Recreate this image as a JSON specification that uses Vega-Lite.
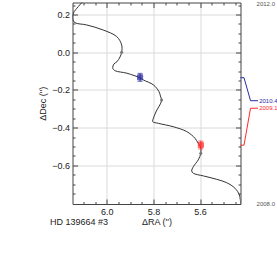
{
  "$schema": "https://vega.github.io/schema/vega-lite/v6.json",
  "width": 168,
  "height": 201.5,
  "autosize": {"type": "none"},
  "padding": {"left": 72.5, "top": 2.5, "right": 36.5, "bottom": 65},
  "background": "white",
  "config": {
    "view": {"stroke": null},
    "font": "Liberation Sans",
    "axis": {"domainColor": "#444", "tickColor": "#444", "labelColor": "#222", "titleColor": "#222", "labelFontSize": 9, "titleFontSize": 9, "titleFontWeight": "normal"}
  },
  "datasets": {
    "curve": [
      {"i": 1, "ra": 5.426, "dec": -0.81},
      {"i": 2, "ra": 5.432, "dec": -0.757},
      {"i": 3, "ra": 5.451, "dec": -0.721},
      {"i": 4, "ra": 5.486, "dec": -0.692},
      {"i": 5, "ra": 5.529, "dec": -0.674},
      {"i": 6, "ra": 5.586, "dec": -0.656},
      {"i": 7, "ra": 5.629, "dec": -0.642},
      {"i": 8, "ra": 5.636, "dec": -0.63},
      {"i": 9, "ra": 5.629, "dec": -0.607},
      {"i": 10, "ra": 5.608, "dec": -0.571},
      {"i": 11, "ra": 5.597, "dec": -0.536},
      {"i": 12, "ra": 5.598, "dec": -0.502},
      {"i": 13, "ra": 5.608, "dec": -0.483},
      {"i": 14, "ra": 5.622, "dec": -0.456},
      {"i": 15, "ra": 5.657, "dec": -0.421},
      {"i": 16, "ra": 5.715, "dec": -0.395},
      {"i": 17, "ra": 5.779, "dec": -0.377},
      {"i": 18, "ra": 5.803, "dec": -0.368},
      {"i": 19, "ra": 5.8, "dec": -0.35},
      {"i": 20, "ra": 5.785, "dec": -0.306},
      {"i": 21, "ra": 5.77, "dec": -0.274},
      {"i": 22, "ra": 5.765, "dec": -0.253},
      {"i": 23, "ra": 5.77, "dec": -0.232},
      {"i": 24, "ra": 5.776, "dec": -0.209},
      {"i": 25, "ra": 5.8, "dec": -0.173},
      {"i": 26, "ra": 5.843, "dec": -0.147},
      {"i": 27, "ra": 5.857, "dec": -0.136},
      {"i": 28, "ra": 5.914, "dec": -0.111},
      {"i": 29, "ra": 5.964, "dec": -0.098},
      {"i": 30, "ra": 5.974, "dec": -0.085},
      {"i": 31, "ra": 5.969, "dec": -0.062},
      {"i": 32, "ra": 5.956, "dec": -0.05},
      {"i": 33, "ra": 5.943, "dec": -0.025},
      {"i": 34, "ra": 5.936, "dec": 0.0},
      {"i": 35, "ra": 5.936, "dec": 0.039},
      {"i": 36, "ra": 5.957, "dec": 0.083},
      {"i": 37, "ra": 6.015, "dec": 0.118},
      {"i": 38, "ra": 6.086, "dec": 0.145},
      {"i": 39, "ra": 6.136, "dec": 0.157},
      {"i": 40, "ra": 6.146, "dec": 0.177},
      {"i": 41, "ra": 6.143, "dec": 0.207},
      {"i": 42, "ra": 6.122, "dec": 0.242},
      {"i": 43, "ra": 6.103, "dec": 0.268},
      {"i": 44, "ra": 6.089, "dec": 0.288}
    ],
    "years": [
      {"yr": 2009.0, "ra": 5.597, "dec": -0.536},
      {"yr": 2010.0, "ra": 5.765, "dec": -0.253},
      {"yr": 2011.0, "ra": 5.936, "dec": 0.0}
    ],
    "obs": [
      {"series": "2010.4", "ra": 5.857, "dec": -0.133, "lo": -0.154, "hi": -0.112},
      {"series": "2009.1", "ra": 5.597, "dec": -0.492, "lo": -0.513, "hi": -0.471}
    ],
    "conn": [
      {"series": "2010.4", "i": 1, "ra": 5.427, "dec": -0.135},
      {"series": "2010.4", "i": 2, "ra": 5.412, "dec": -0.135},
      {"series": "2010.4", "i": 3, "ra": 5.384, "dec": -0.257},
      {"series": "2010.4", "i": 4, "ra": 5.352, "dec": -0.257},
      {"series": "2009.1", "i": 1, "ra": 5.427, "dec": -0.493},
      {"series": "2009.1", "i": 2, "ra": 5.412, "dec": -0.493},
      {"series": "2009.1", "i": 3, "ra": 5.384, "dec": -0.297},
      {"series": "2009.1", "i": 4, "ra": 5.352, "dec": -0.297}
    ],
    "labels": [
      {"text": "2012.0", "series": "model", "ra": 5.358, "dec": 0.257},
      {"text": "2010.4", "series": "2010.4", "ra": 5.347, "dec": -0.257},
      {"text": "2009.1", "series": "2009.1", "ra": 5.347, "dec": -0.297},
      {"text": "2008.0", "series": "model", "ra": 5.358, "dec": -0.805}
    ],
    "name": [
      {"text": "HD 139664 #3", "ra": 6.243, "dec": -0.899}
    ]
  },
  "layer": [
    {
      "data": {"name": "curve"},
      "mark": {"type": "line", "color": "#333", "strokeWidth": 1, "interpolate": "catmull-rom", "clip": true},
      "encoding": {
        "x": {"field": "ra", "type": "quantitative", "scale": {"domain": [5.427, 6.1465], "reverse": true, "nice": false, "zero": false},
          "axis": {"orient": "bottom", "values": [6.0, 5.8, 5.6], "format": ".1f", "title": "ΔRA ('')", "grid": true, "gridColor": "#dadada", "tickSize": -5, "labelPadding": 8, "titlePadding": 1}},
        "y": {"field": "dec", "type": "quantitative", "scale": {"domain": [-0.805, 0.264], "nice": false, "zero": false},
          "axis": {"orient": "left", "values": [0.2, 0.0, -0.2, -0.4, -0.6], "format": ".1f", "title": "ΔDec ('')", "grid": true, "gridColor": "#dadada", "tickSize": -5, "labelPadding": 8, "titlePadding": 4}},
        "order": {"field": "i", "type": "quantitative"}
      }
    },
    {
      "data": {"name": "years"},
      "mark": {"type": "circle", "color": "#777", "size": 9, "opacity": 1},
      "encoding": {
        "x": {"field": "ra", "type": "quantitative",
          "axis": {"orient": "bottom", "values": [6.1, 6.05, 5.95, 5.9, 5.85, 5.75, 5.7, 5.65, 5.55, 5.5, 5.45], "labels": false, "grid": false, "domain": false, "tickSize": -2.5, "title": null}},
        "y": {"field": "dec", "type": "quantitative",
          "axis": {"orient": "left", "values": [0.25, 0.15, 0.1, 0.05, -0.05, -0.1, -0.15, -0.25, -0.3, -0.35, -0.45, -0.5, -0.55, -0.65, -0.7, -0.75], "labels": false, "grid": false, "domain": false, "tickSize": -2.5, "title": null}}
      }
    },
    {
      "data": {"name": "obs"},
      "mark": {"type": "rule", "strokeWidth": 1},
      "encoding": {
        "x": {"field": "ra", "type": "quantitative",
          "axis": {"orient": "top", "values": [6.0, 5.8, 5.6], "labels": false, "grid": false, "tickSize": -5, "title": null}},
        "y": {"field": "lo", "type": "quantitative",
          "axis": {"orient": "right", "values": [0.2, 0.0, -0.2, -0.4, -0.6], "labels": false, "grid": false, "tickSize": -5, "title": null}},
        "y2": {"field": "hi"},
        "color": {"field": "series", "type": "nominal", "scale": {"domain": ["2010.4", "2009.1", "model"], "range": ["#2b2ba3", "#ff2a2a", "#555555"]}, "legend": null}
      }
    },
    {
      "data": {"name": "obs"},
      "mark": {"type": "square", "size": 26, "filled": true, "opacity": 0.75, "strokeWidth": 1},
      "encoding": {
        "x": {"field": "ra", "type": "quantitative",
          "axis": {"orient": "top", "values": [6.1, 6.05, 5.95, 5.9, 5.85, 5.75, 5.7, 5.65, 5.55, 5.5, 5.45], "labels": false, "grid": false, "domain": false, "tickSize": -2.5, "title": null}},
        "y": {"field": "dec", "type": "quantitative",
          "axis": {"orient": "right", "values": [0.25, 0.15, 0.1, 0.05, -0.05, -0.1, -0.15, -0.25, -0.3, -0.35, -0.45, -0.5, -0.55, -0.65, -0.7, -0.75], "labels": false, "grid": false, "domain": false, "tickSize": -2.5, "title": null}},
        "color": {"field": "series", "type": "nominal", "legend": null},
        "stroke": {"field": "series", "type": "nominal", "scale": {"domain": ["2010.4", "2009.1", "model"], "range": ["#2b2ba3", "#ff2a2a", "#555555"]}, "legend": null}
      }
    },
    {
      "data": {"name": "obs"},
      "mark": {"type": "tick", "orient": "horizontal", "size": 5, "thickness": 1},
      "encoding": {
        "x": {"field": "ra", "type": "quantitative", "axis": null},
        "y": {"field": "lo", "type": "quantitative", "axis": null},
        "color": {"field": "series", "type": "nominal", "legend": null}
      }
    },
    {
      "data": {"name": "obs"},
      "mark": {"type": "tick", "orient": "horizontal", "size": 5, "thickness": 1},
      "encoding": {
        "x": {"field": "ra", "type": "quantitative", "axis": null},
        "y": {"field": "hi", "type": "quantitative", "axis": null},
        "color": {"field": "series", "type": "nominal", "legend": null}
      }
    },
    {
      "data": {"name": "conn"},
      "mark": {"type": "line", "strokeWidth": 1, "clip": false},
      "encoding": {
        "x": {"field": "ra", "type": "quantitative", "axis": null},
        "y": {"field": "dec", "type": "quantitative", "axis": null},
        "color": {"field": "series", "type": "nominal", "legend": null},
        "order": {"field": "i", "type": "quantitative"}
      }
    },
    {
      "data": {"name": "labels"},
      "mark": {"type": "text", "align": "left", "baseline": "middle", "fontSize": 6, "clip": false},
      "encoding": {
        "x": {"field": "ra", "type": "quantitative", "axis": null},
        "y": {"field": "dec", "type": "quantitative", "axis": null},
        "text": {"field": "text"},
        "color": {"field": "series", "type": "nominal", "legend": null}
      }
    },
    {
      "data": {"name": "name"},
      "mark": {"type": "text", "align": "left", "baseline": "middle", "fontSize": 9, "color": "#222", "clip": false},
      "encoding": {
        "x": {"field": "ra", "type": "quantitative", "axis": null},
        "y": {"field": "dec", "type": "quantitative", "axis": null},
        "text": {"field": "text"}
      }
    }
  ],
  "resolve": {"axis": {"x": "independent", "y": "independent"}}
}
